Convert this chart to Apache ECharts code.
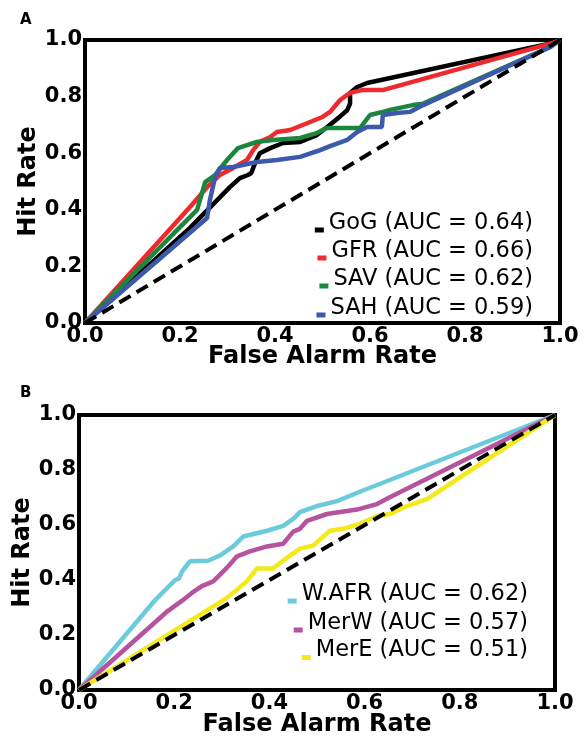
<!DOCTYPE html>
<html><head><meta charset="utf-8">
<script src="https://cdn.jsdelivr.net/npm/echarts@6/dist/echarts.min.js"></script>
<style>html,body{margin:0;padding:0;background:#fff}#c{width:587px;height:738px}</style>
</head><body><div id="c"></div>
<script>
// Panel A
const gogX = [0, 0.221, 0.305, 0.326, 0.343, 0.350, 0.358, 0.368, 0.39, 0.417, 0.453, 0.488, 0.512, 0.537, 0.552, 0.558, 0.558, 0.573, 0.594, 0.985, 1];
const gogY = [0, 0.336, 0.48, 0.512, 0.523, 0.53, 0.565, 0.60, 0.618, 0.636, 0.64, 0.664, 0.695, 0.73, 0.752, 0.775, 0.813, 0.834, 0.848, 0.99, 1];
const gfrX = [0, 0.221, 0.257, 0.284, 0.312, 0.341, 0.354, 0.368, 0.39, 0.404, 0.432, 0.50, 0.516, 0.537, 0.558, 0.583, 0.627, 0.985, 1];
const gfrY = [0, 0.41, 0.48, 0.523, 0.548, 0.576, 0.611, 0.64, 0.657, 0.675, 0.682, 0.728, 0.746, 0.788, 0.813, 0.823, 0.823, 0.99, 1];
const savX = [0, 0.236, 0.253, 0.274, 0.299, 0.322, 0.362, 0.396, 0.453, 0.488, 0.509, 0.579, 0.60, 0.627, 0.642, 0.69, 0.712, 0.979, 1];
const savY = [0, 0.40, 0.498, 0.523, 0.576, 0.618, 0.64, 0.647, 0.654, 0.671, 0.689, 0.689, 0.735, 0.746, 0.753, 0.77, 0.775, 0.975, 1];
const sahX = [0, 0.257, 0.263, 0.274, 0.284, 0.312, 0.362, 0.404, 0.453, 0.495, 0.516, 0.552, 0.573, 0.594, 0.625, 0.627, 0.657, 0.684, 0.712, 0.979, 1];
const sahY = [0, 0.371, 0.435, 0.516, 0.548, 0.551, 0.569, 0.576, 0.587, 0.611, 0.625, 0.647, 0.675, 0.693, 0.693, 0.735, 0.742, 0.746, 0.77, 0.975, 1];
// Panel B
const wafrX = [0, 0.16, 0.202, 0.21, 0.216, 0.233, 0.271, 0.296, 0.324, 0.345, 0.395, 0.429, 0.45, 0.464, 0.5, 0.542, 0.59, 1];
const wafrY = [0, 0.327, 0.40, 0.405, 0.43, 0.468, 0.47, 0.489, 0.522, 0.558, 0.579, 0.597, 0.622, 0.647, 0.669, 0.687, 0.721, 1];
const merwX = [0, 0.187, 0.216, 0.237, 0.258, 0.282, 0.311, 0.332, 0.359, 0.395, 0.429, 0.45, 0.464, 0.479, 0.521, 0.584, 0.626, 0.653, 1];
const merwY = [0, 0.288, 0.324, 0.353, 0.378, 0.395, 0.445, 0.486, 0.504, 0.522, 0.532, 0.576, 0.586, 0.615, 0.64, 0.656, 0.676, 0.701, 1];
const mereX = [0, 0.311, 0.353, 0.374, 0.408, 0.429, 0.464, 0.492, 0.527, 0.555, 0.59, 0.626, 0.653, 0.689, 0.731, 1];
const mereY = [0, 0.335, 0.396, 0.442, 0.442, 0.471, 0.514, 0.525, 0.579, 0.586, 0.604, 0.633, 0.64, 0.669, 0.694, 1];
const diagX = [0, 1];
const diagY = [0, 1];
const namesA = ['GoG (AUC = 0.64)', 'GFR (AUC = 0.66)', 'SAV (AUC = 0.62)', 'SAH (AUC = 0.59)'];
const namesB = ['W.AFR (AUC = 0.62)', 'MerW (AUC = 0.57)', 'MerE (AUC = 0.51)'];
const colorsA = ['#000000', '#ee2a2e', '#1b873d', '#3c59ab'];
const colorsB = ['#6ccbdb', '#b6539f', '#f3ea1c'];
const ticks = [0, 0.2, 0.4, 0.6, 0.8, 1.0];

const zip = (xs, ys) => xs.map((x, i) => [x, ys[i]]);
const FONT = 'DejaVu Sans';

function axes(gi, xGap) {
  const common = {
    type: 'value', min: 0, max: 1, interval: 0.2, gridIndex: gi,
    axisLine: { show: true, lineStyle: { color: '#000', width: 4 } },
    axisTick: { show: false }, splitLine: { show: false },
    nameLocation: 'middle', nameMoveOverlap: false,
    nameTextStyle: { fontFamily: FONT, fontSize: 24, fontWeight: 'bold', color: '#000' },
    axisLabel: { fontFamily: FONT, fontSize: 21, fontWeight: 'bold', color: '#000', formatter: v => v.toFixed(1) }
  };
  return {
    x: Object.assign({}, common, { name: 'False Alarm Rate', nameGap: xGap, axisLabel: Object.assign({}, common.axisLabel, { margin: 3 }) }),
    y: Object.assign({}, common, { name: 'Hit Rate', nameGap: 44, axisLabel: Object.assign({}, common.axisLabel, { margin: 3 }) })
  };
}
const aA = axes(0, 22), aB = axes(1, 23);

const series = [];
[[gogX, gogY], [gfrX, gfrY], [savX, savY], [sahX, sahY]].forEach((d, i) => {
  series.push({ type: 'line', name: namesA[i], xAxisIndex: 0, yAxisIndex: 0, data: zip(d[0], d[1]), showSymbol: false, symbol: 'rect',
    lineStyle: { color: colorsA[i], width: 4.5 }, itemStyle: { color: colorsA[i] }, z: 2 + i });
});
series.push({ type: 'line', name: 'chanceA', xAxisIndex: 0, yAxisIndex: 0, data: zip(diagX, diagY), showSymbol: false,
  lineStyle: { color: '#000', width: 4, type: [13, 7] }, z: 10 });
[[wafrX, wafrY], [merwX, merwY], [mereX, mereY]].forEach((d, i) => {
  series.push({ type: 'line', name: namesB[i], xAxisIndex: 1, yAxisIndex: 1, data: zip(d[0], d[1]), showSymbol: false, symbol: 'rect',
    lineStyle: { color: colorsB[i], width: 4.5 }, itemStyle: { color: colorsB[i] }, z: 2 + i });
});
series.push({ type: 'line', name: 'chanceB', xAxisIndex: 1, yAxisIndex: 1, data: zip(diagX, diagY), showSymbol: false,
  lineStyle: { color: '#000', width: 4, type: [13, 7] }, z: 10 });

const legTopsA = [211.5, 239.5, 267.5, 296.5];
const legTopsB = [582.5, 611.5, 639];
function leg(name, top, right) {
  return { data: [name], top: top, right: right, orient: 'vertical', padding: 0, selectedMode: false,
    icon: 'rect', itemWidth: 9, itemHeight: 5,
    formatter: n => '{t|' + n + '}\n{s| }',
    textStyle: { fontFamily: FONT, fontSize: 22.5, color: '#000',
      rich: { t: { fontFamily: FONT, fontSize: 22.5, color: '#000', lineHeight: 24 },
              s: { fontSize: 4, lineHeight: 14 } } } };
}
const legends = namesA.map((n, i) => leg(n, legTopsA[i], 54)).concat(namesB.map((n, i) => leg(n, legTopsB[i], 59)));

const chart = echarts.init(document.getElementById('c'), null, { renderer: 'canvas' });
chart.setOption({
  animation: false,
  backgroundColor: '#fff',
  title: [
    { text: 'A', left: 15, top: 8, textStyle: { fontFamily: FONT, fontSize: 15, fontWeight: 'bold', color: '#000' } },
    { text: 'B', left: 15, top: 381, textStyle: { fontFamily: FONT, fontSize: 15, fontWeight: 'bold', color: '#000' } }
  ],
  grid: [
    { left: 85, top: 40, width: 475, height: 283, show: true, borderColor: '#000', borderWidth: 4, backgroundColor: 'transparent' },
    { left: 79, top: 415, width: 476, height: 278, show: true, borderColor: '#000', borderWidth: 4, backgroundColor: 'transparent' }
  ],
  xAxis: [aA.x, aB.x],
  yAxis: [aA.y, aB.y],
  legend: legends,
  series: series
});
</script>
</body></html>
